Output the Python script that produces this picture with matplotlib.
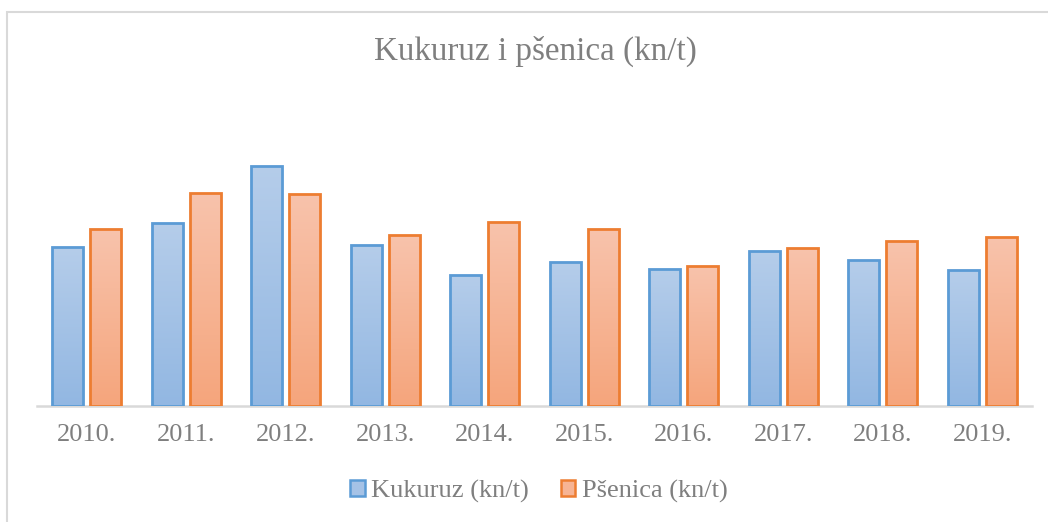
import numpy as np
import matplotlib
matplotlib.use('Agg')
import matplotlib.pyplot as plt
from matplotlib.colors import LinearSegmentedColormap
from matplotlib.patches import Patch, Rectangle

plt.rcParams['font.family'] = ['Liberation Serif', 'DejaVu Serif']

years = ['2010.', '2011.', '2012.', '2013.', '2014.',
         '2015.', '2016.', '2017.', '2018.', '2019.']
kukuruz = [1060, 1220, 1600, 1075, 875, 960, 915, 1035, 975, 905]
psenica = [1180, 1420, 1415, 1140, 1225, 1180, 935, 1055, 1100, 1125]

GRAY = '#7f7f7f'

fig = plt.figure(figsize=(10.48, 5.22), dpi=100)
ax = fig.add_axes([37 / 1048, 116 / 522, 995 / 1048, 300 / 522])

# outer chart frame (only left and top edges visible in the crop)
fig.patches.append(Rectangle((7 / 1048, -0.1), 1.2, (522 - 12) / 522 + 0.1,
                             transform=fig.transFigure, fill=False,
                             edgecolor='#d9d9d9', lw=1.5))

x = np.arange(len(years))
w, off = 0.31, 0.19

blue_cmap = LinearSegmentedColormap.from_list('b', ['#92b7e2', '#b5cdea'])
orng_cmap = LinearSegmentedColormap.from_list('o', ['#f5a57c', '#f8c3ac'])
grad = np.linspace(0, 1, 256).reshape(-1, 1)


def gradient_bars(xs, vals, cmap, edge):
    bars = ax.bar(xs, vals, width=w, facecolor='none', edgecolor=edge,
                  lw=2.0, zorder=3)
    for rect in bars:
        x0, y0 = rect.get_x(), rect.get_y()
        im = ax.imshow(grad, extent=[x0, x0 + rect.get_width(), y0, y0 + rect.get_height()],
                       cmap=cmap, aspect='auto', origin='lower', zorder=2)
        im.set_clip_path(rect)
    return bars


gradient_bars(x - off, kukuruz, blue_cmap, '#5b9bd5')
gradient_bars(x + off, psenica, orng_cmap, '#ed7d31')

ax.set_xlim(-0.5, len(years) - 0.5)
ax.set_ylim(0, 2000)
ax.set_xticks(x)
ax.set_xticklabels(years, fontsize=19, color=GRAY)
ax.tick_params(axis='x', length=0, pad=13)
ax.set_yticks([])
for s in ['top', 'right', 'left']:
    ax.spines[s].set_visible(False)
ax.spines['bottom'].set_color('#d9d9d9')
ax.spines['bottom'].set_linewidth(1.8)
ax.spines['bottom'].set_zorder(1)

fig.text(535 / 1048, 1 - 51 / 522, 'Kukuruz i pšenica (kn/t)', ha='center', va='center',
         fontsize=23.9, color=GRAY)

handles = [Patch(facecolor='#a5c2e6', edgecolor='#5b9bd5', lw=1.8, label='Kukuruz (kn/t)'),
           Patch(facecolor='#f7b494', edgecolor='#ed7d31', lw=1.8, label='Pšenica (kn/t)')]
fig.legend(handles=handles, loc='center', bbox_to_anchor=(539 / 1048, 1 - 491 / 522), ncol=2,
           frameon=False, fontsize=19, labelcolor=GRAY, handlelength=0.55,
           handleheight=0.55, handletextpad=0.25, columnspacing=1.2)

fig.savefig('out.png', dpi=100)
